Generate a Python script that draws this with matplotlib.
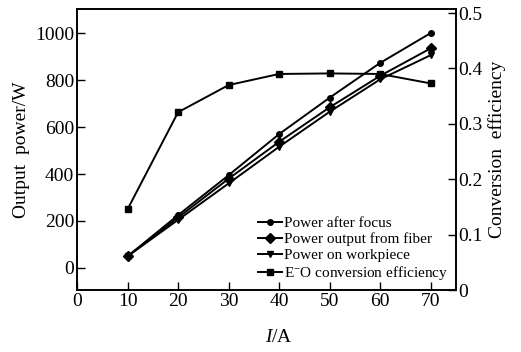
import matplotlib
matplotlib.use('Agg')
import matplotlib.pyplot as plt
from matplotlib.ticker import FuncFormatter

plt.rcParams['font.family'] = ['Liberation Serif', 'DejaVu Serif']
plt.rcParams['mathtext.fontset'] = 'custom'
plt.rcParams['mathtext.rm'] = 'Liberation Serif'
plt.rcParams['mathtext.it'] = 'Liberation Serif:italic'

# データ
current = [10, 20, 30, 40, 50, 60, 70]
after_focus = [50, 225, 395, 570, 725, 873, 1000]
from_fiber = [50, 215, 380, 537, 684, 818, 935]
on_workpiece = [50, 205, 360, 516, 665, 803, 906]
eo_eff = [0.146, 0.321, 0.370, 0.390, 0.391, 0.390, 0.373]

fig = plt.figure(figsize=(5.21, 3.52), dpi=100)
ax1 = fig.add_axes([0.148, 0.176, 0.727, 0.798])
ax2 = ax1.twinx()

kw = dict(color='black', linewidth=1.4)

l1, = ax1.plot(current, after_focus, marker='o', markersize=4, label='Power after focus', **kw)
l2, = ax1.plot(current, from_fiber, marker='D', markersize=5, label='Power output from fiber', **kw)
l3, = ax1.plot(current, on_workpiece, marker='v', markersize=5, label='Power on workpiece', **kw)
l4, = ax2.plot(current, eo_eff, marker='s', markersize=4.5, label='E$^{-}$O conversion efficiency', **kw)

ax1.set_xlim(0, 75)
ax1.set_ylim(-94, 1102)
ax2.set_ylim(0, 0.507)
ax1.set_xticks(range(0, 80, 10))
ax1.set_yticks(range(0, 1001, 200))
ax2.set_yticks([0, 0.1, 0.2, 0.3, 0.4, 0.5])
ax2.yaxis.set_major_formatter(FuncFormatter(lambda v, p: '0' if v == 0 else f'{v:.1f}'))

for ax in (ax1, ax2):
    ax.tick_params(direction='in', length=6, width=1, labelsize=14, pad=2)
    for s in ax.spines.values():
        s.set_linewidth(1.2)

ax1.set_xlabel('$I$/A', fontsize=14)
ax1.xaxis.set_label_coords(0.533, -0.14)
ax1.set_ylabel('Output  power/W', fontsize=14, labelpad=4)
ax2.set_ylabel('Conversion  efficiency', fontsize=14, labelpad=4)

ax2.legend(handles=[l1, l2, l3, l4], loc='lower right', bbox_to_anchor=(1.0, 0.0),
           frameon=False, fontsize=11, handlelength=1.6, handletextpad=0.1,
           labelspacing=0.15, borderaxespad=0.1)

plt.savefig('out.png', dpi=100)
plt.close()
